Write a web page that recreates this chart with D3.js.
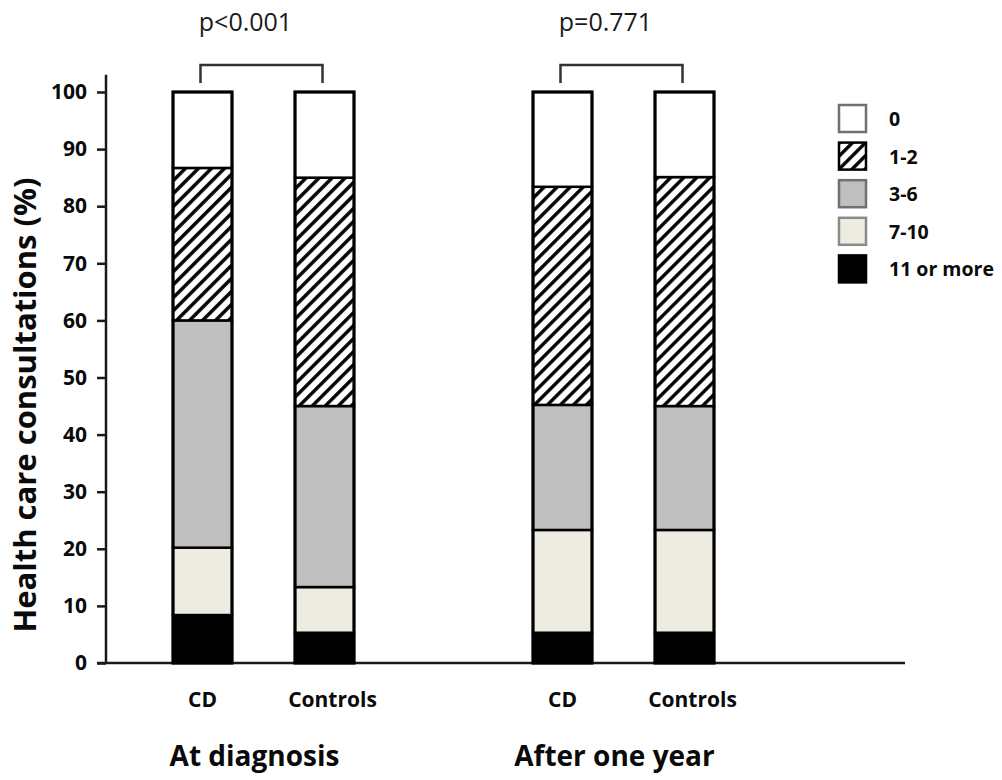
<!DOCTYPE html>
<html>
<head>
<meta charset="utf-8">
<script src="https://cdn.jsdelivr.net/npm/d3@7"></script>
<style>
  html, body { margin: 0; padding: 0; background: #fff; }
  svg { display: block; font-family: "Open Sans", sans-serif; }
</style>
</head>
<body>
<svg id="chart" width="1002" height="780"></svg>
<script>
// Number of health care consultations, % of subjects in each bar
const groups = ["At diagnosis", "After one year"];
const subjects = ["CD", "Controls"];
const categories = ["0", "1-2", "3-6", "7-10", "11 or more"];

// one value per bar: [diagnosis CD, diagnosis Controls, one-year CD, one-year Controls]
const pct0      = [13.3, 15.0, 16.6, 14.9];
const pct1to2   = [26.7, 40.0, 38.2, 40.1];
const pct3to6   = [39.8, 31.7, 21.9, 21.7];
const pct7to10  = [11.8,  8.0, 18.0, 18.0];
const pct11plus = [ 8.4,  5.3,  5.3,  5.3];

const pValues = ["p<0.001", "p=0.771"];
const yTicks = [0, 10, 20, 30, 40, 50, 60, 70, 80, 90, 100];

const seriesByCat = {
  "0": pct0, "1-2": pct1to2, "3-6": pct3to6, "7-10": pct7to10, "11 or more": pct11plus
};

const bars = [];
groups.forEach((g, gi) => subjects.forEach((s, si) => {
  const i = gi * subjects.length + si;
  const row = { group: g, subject: s };
  categories.forEach(c => row[c] = seriesByCat[c][i]);
  bars.push(row);
}));

const svg = d3.select("#chart");

const fills = {
  "0": "#ffffff",
  "1-2": "url(#hatch)",
  "3-6": "#bfbfbf",
  "7-10": "#eeece1",
  "11 or more": "#000000"
};
const legendStroke = {
  "0": "#707070", "1-2": "#000", "3-6": "#707070", "7-10": "#8a8a8a", "11 or more": "#000"
};

// diagonal hatch
const defs = svg.append("defs");
const pat = defs.append("pattern")
  .attr("id", "hatch")
  .attr("patternUnits", "userSpaceOnUse")
  .attr("width", 9.2).attr("height", 9.2)
  .attr("patternTransform", "rotate(45)");
pat.append("rect").attr("width", 9.2).attr("height", 9.2).attr("fill", "#fff");
pat.append("line").attr("x1", 1.8).attr("x2", 1.8).attr("y1", 0).attr("y2", 9.2)
  .attr("stroke", "#000").attr("stroke-width", 3.4);

// scales
const y = d3.scaleLinear().domain([0, 100]).range([663, 92]);
const x0 = d3.scaleBand().domain(groups).range([83.5, 803.5]);
const x1 = d3.scaleBand().domain(subjects).range([89.5, 270.5]).paddingInner(0.5164).paddingOuter(0);

const stackKeys = ["11 or more", "7-10", "3-6", "1-2", "0"];
const stacked = d3.stack().keys(stackKeys)(bars);

const barX = d => x0(d.group) + x1(d.subject);
const bw = x1.bandwidth();

// y axis
const axisX = 106;
const yAxis = d3.axisLeft(y).tickValues(yTicks).tickSize(9).tickPadding(10);
const gy = svg.append("g").attr("transform", `translate(${axisX},0)`).call(yAxis);
gy.select(".domain").remove();
gy.selectAll(".tick line").attr("stroke", "#1a1a1a").attr("stroke-width", 2.5);
gy.selectAll(".tick text")
  .attr("fill", "#0a0a0a").attr("font-size", 21).attr("font-weight", 700)
  .attr("font-family", "'Open Sans', sans-serif");
svg.append("line")
  .attr("x1", axisX).attr("x2", axisX)
  .attr("y1", y(0)).attr("y2", y(103))
  .attr("stroke", "#1a1a1a").attr("stroke-width", 2.5);

// baseline
svg.append("line")
  .attr("x1", axisX - 9).attr("x2", 905)
  .attr("y1", y(0)).attr("y2", y(0))
  .attr("stroke", "#1a1a1a").attr("stroke-width", 2.5);

// stacked segments
svg.append("g").selectAll("g")
  .data(stacked)
  .join("g")
  .attr("fill", s => fills[s.key])
  .selectAll("rect")
  .data(s => s)
  .join("rect")
  .attr("x", d => barX(d.data))
  .attr("y", d => y(d[1]))
  .attr("width", bw)
  .attr("height", d => y(d[0]) - y(d[1]))
  .attr("stroke", "#000")
  .attr("stroke-width", 2.5);

// bar outlines
svg.append("g").selectAll("rect")
  .data(bars)
  .join("rect")
  .attr("x", d => barX(d))
  .attr("y", y(100))
  .attr("width", bw)
  .attr("height", y(0) - y(100))
  .attr("fill", "none")
  .attr("stroke", "#000")
  .attr("stroke-width", 3);

// subject labels
svg.append("g").selectAll("text")
  .data(bars)
  .join("text")
  .attr("x", d => barX(d) + bw / 2 + (d.subject === "Controls" ? 8 : 0))
  .attr("y", 707)
  .attr("text-anchor", "middle")
  .attr("font-size", 21).attr("font-weight", 700).attr("fill", "#0a0a0a")
  .text(d => d.subject);

// group labels
svg.append("g").selectAll("text")
  .data(groups)
  .join("text")
  .attr("x", g => x0(g) + x1("CD") + bw / 2 + 52)
  .attr("y", 766)
  .attr("text-anchor", "middle")
  .attr("font-size", 28).attr("font-weight", 700).attr("fill", "#0a0a0a")
  .text(g => g);

// significance brackets
groups.forEach((g, gi) => {
  const xl = x0(g) + x1("CD") + bw / 2 - 2;
  const xr = x0(g) + x1("Controls") + bw / 2 - 2;
  svg.append("path")
    .attr("d", `M${xl},83 V65 H${xr} V83`)
    .attr("fill", "none").attr("stroke", "#333").attr("stroke-width", 2.5);
  svg.append("text")
    .attr("x", (xl + xr) / 2 - 16)
    .attr("y", 31)
    .attr("text-anchor", "middle")
    .attr("font-size", 25).attr("fill", "#1a1a1a")
    .text(pValues[gi]);
});

// y axis title
svg.append("text")
  .attr("transform", "translate(36,405) rotate(-90)")
  .attr("text-anchor", "middle")
  .attr("font-size", 31).attr("font-weight", 700).attr("fill", "#0a0a0a")
  .text("Health care consultations (%)");

// legend
const legend = svg.append("g").attr("transform", "translate(838,104)");
const li = legend.selectAll("g")
  .data(categories)
  .join("g")
  .attr("transform", (d, i) => `translate(0,${i * 37.6})`);
li.append("rect")
  .attr("x", 1).attr("y", 1).attr("width", 27).attr("height", 27)
  .attr("fill", d => fills[d])
  .attr("stroke", d => legendStroke[d])
  .attr("stroke-width", 2.5);
li.append("text")
  .attr("x", 51).attr("y", 22)
  .attr("font-size", 19.5).attr("font-weight", 700).attr("fill", "#0a0a0a")
  .text(d => d);
</script>
</body>
</html>
